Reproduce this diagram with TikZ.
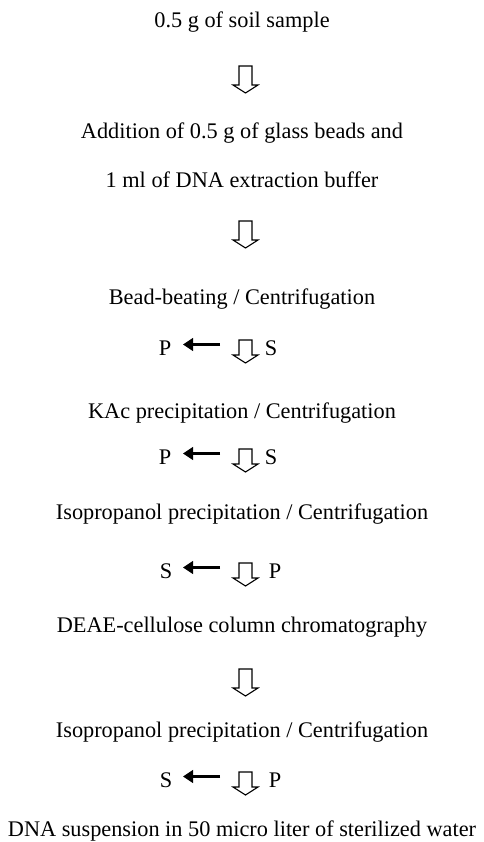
\documentclass[tikz,border=0pt]{standalone}
\usepackage{fontspec}
\setmainfont{Liberation Serif}
\usetikzlibrary{arrows.meta}
\newcommand\harrow[4]{% name, x, top, length
  \draw[hollowline] (#2-6.5,#3) -- (#2+6.5,#3) -- (#2+6.5,#3+#4-8) -- (#2+12.5,#3+#4-8)
    -- (#2,#3+#4) -- (#2-12.5,#3+#4-8) -- (#2-6.5,#3+#4-8) -- cycle;
  \coordinate (#1) at (#2,#3);}
\begin{document}
\begin{tikzpicture}[x=1pt,y=-1pt,
  txt/.style={anchor=base,inner sep=0pt,font=\fontsize{22.3}{26}\selectfont},
  hollowline/.style={draw=black,line width=1.1pt,line join=miter},
  solidarrow/.style={line width=3.8pt,-{Triangle[length=10pt,width=12.5pt]}}]
\useasboundingbox (0,0) rectangle (483,842);
\node[txt] (t1) at (242,28) {0.5 g of soil sample};
\harrow{h1}{245.5}{66}{27}
\node[txt] (t2) at (242,139) {Addition of 0.5 g of glass beads and};
\node[txt] (t3) at (242,188) {1 ml of DNA extraction buffer};
\harrow{h2}{245.5}{221}{27}
\node[txt] (t4) at (242,304) {Bead-beating / Centrifugation};
% row 1
\harrow{h3}{245.5}{340}{23}
\node[txt] (l1) at (165,355) {P};
\node[txt] (r1) at (271,355) {S};
\coordinate (s1) at (220,344.5);
\coordinate (e1) at (183,344.5);
\draw[solidarrow] (s1) -- (e1);
\node[txt] (t5) at (242,418) {KAc precipitation / Centrifugation};
% row 2
\harrow{h4}{245.5}{449}{23}
\node[txt] (l2) at (165,464) {P};
\node[txt] (r2) at (271,464) {S};
\coordinate (s2) at (220,453.5);
\coordinate (e2) at (183,453.5);
\draw[solidarrow] (s2) -- (e2);
\node[txt] (t6) at (242,519) {Isopropanol precipitation / Centrifugation};
% row 3
\harrow{h5}{245.5}{563}{23}
\node[txt] (l3) at (166,578) {S};
\node[txt] (r3) at (275,578) {P};
\coordinate (s3) at (220,567.5);
\coordinate (e3) at (183,567.5);
\draw[solidarrow] (s3) -- (e3);
\node[txt] (t7) at (242,632) {DEAE-cellulose column chromatography};
\harrow{h6}{245.5}{669}{27}
\node[txt] (t8) at (242,737) {Isopropanol precipitation / Centrifugation};
% row 4
\harrow{h7}{245.5}{772}{23}
\node[txt] (l4) at (166,787) {S};
\node[txt] (r4) at (275,787) {P};
\coordinate (s4) at (220,776.5);
\coordinate (e4) at (183,776.5);
\draw[solidarrow] (s4) -- (e4);
\node[txt] (t9) at (242,836) {DNA suspension in 50 micro liter of sterilized water};
\end{tikzpicture}
\end{document}
